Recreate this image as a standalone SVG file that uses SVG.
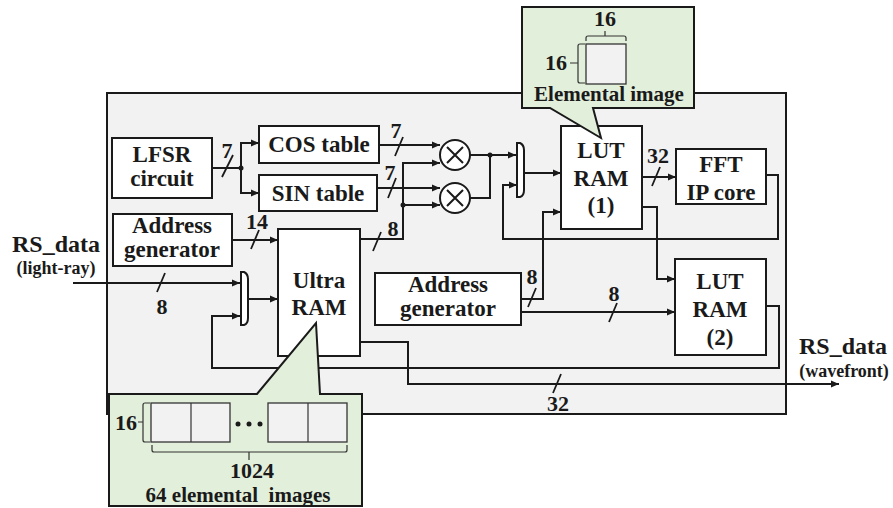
<svg xmlns="http://www.w3.org/2000/svg" width="893" height="508" viewBox="0 0 893 508">
<style>
text{font-family:"Liberation Serif","Times New Roman",serif;font-weight:bold;fill:#1a1a1a;text-anchor:middle;font-size:23px}
.d{font-size:22px}
.s{font-size:18px}
.box{fill:#fff;stroke:#1a1a1a;stroke-width:2}
.green{fill:#e2efda;stroke:#1a1a1a;stroke-width:2;stroke-linejoin:miter}
.img{fill:#f2f2f2;stroke:#333;stroke-width:1.3}
.thin{fill:none;stroke:#333;stroke-width:1.2}
.w{fill:none;stroke:#1a1a1a;stroke-width:2}
.a{marker-end:url(#arrow)}
.t{fill:none;stroke:#1a1a1a;stroke-width:1.8}
</style>
<defs>
<marker id="arrow" markerUnits="userSpaceOnUse" markerWidth="9" markerHeight="8" refX="8" refY="4" orient="auto">
<path d="M0,0.5 L8,4 L0,7.5 Z" fill="#1a1a1a"/>
</marker>
</defs>
<rect width="893" height="508" fill="#fff"/>
<g id="system-boundary"><rect x="107" y="93" width="679" height="321" fill="#f2f2f2" stroke="#1a1a1a" stroke-width="2"/></g>
<g id="connectors">
<path class="w" d="M212,168 H241"/>
<path class="w a" d="M241,168 V143 H259"/>
<path class="w a" d="M241,168 V193 H259"/>
<circle cx="241" cy="168" r="2.5" fill="#1a1a1a"/>
<path class="w a" d="M379,145 H440"/>
<path class="w a" d="M377,188 H440"/>
<path class="w a" d="M232,240 H278"/>
<path class="w a" d="M360,239 H403 V163 H440"/>
<path class="w a" d="M403,205 H440"/>
<circle cx="403" cy="205" r="2.5" fill="#1a1a1a"/>
<path class="w a" d="M470,155 H516"/>
<path class="w" d="M470,198 H490 V155"/>
<circle cx="490" cy="155" r="2.5" fill="#1a1a1a"/>
<path class="w a" d="M524,173 H561"/>
<path class="w a" d="M766,175 H778 V239 H503 V185 H517"/>
<path class="w a" d="M521,299 H543 V212 H561"/>
<path class="w a" d="M642,177 H676"/>
<path class="w a" d="M642,207 H657 V279 H675"/>
<path class="w a" d="M521,312 H675"/>
<path class="w a" d="M766,306 H779 V368 H212 V316 H240"/>
<path class="w a" d="M360,342 H408 V384 H839"/>
<path class="w a" d="M73,283 H240"/>
<path class="w a" d="M248,299 H278"/>
<path class="t" d="M222,177 L233,155 M395,156 L403,137 M388,198 L396,178 M251,249 L259,230 M373,251 L381,232 M157,292 L165,273 M528,307 L536,288 M609,322 L617,303 M553,393 L561,374 M652,186 L660,167"/>
</g>
<g id="width-labels">
<text class="d" x="227" y="158">7</text>
<text class="d" x="396" y="138">7</text>
<text class="d" x="390" y="180">7</text>
<text class="d" x="257" y="229">14</text>
<text class="d" x="393" y="236">8</text>
<text class="d" x="162" y="314">8</text>
<text class="d" x="532" y="284">8</text>
<text class="d" x="614" y="301">8</text>
<text class="d" x="558" y="411">32</text>
<text class="d" x="658" y="163">32</text>
</g>
<g id="lfsr"><rect class="box" x="112" y="138" width="100" height="60"/><text x="162" y="162">LFSR</text><text x="162" y="186">circuit</text></g>
<g id="cos-table"><rect class="box" x="259" y="126" width="120" height="37"/><text x="319" y="152">COS table</text></g>
<g id="sin-table"><rect class="box" x="259" y="175" width="118" height="36"/><text x="318" y="201">SIN table</text></g>
<g id="address-generator-1"><rect class="box" x="113" y="214" width="119" height="52"/><text x="172" y="233">Address</text><text x="172" y="257">generator</text></g>
<g id="ultra-ram"><rect class="box" x="278" y="229" width="82" height="127"/><text x="319" y="288">Ultra</text><text x="319" y="315">RAM</text></g>
<g id="lut-ram-1"><rect class="box" x="561" y="126" width="81" height="103"/><text x="601" y="158">LUT</text><text x="601" y="186">RAM</text><text x="601" y="213">(1)</text></g>
<g id="fft"><rect class="box" x="676" y="149" width="90" height="55"/><text x="721" y="172">FFT</text><text x="721" y="200">IP core</text></g>
<g id="lut-ram-2"><rect class="box" x="675" y="259" width="91" height="96"/><text x="720" y="289">LUT</text><text x="720" y="317">RAM</text><text x="720" y="345">(2)</text></g>
<g id="address-generator-2"><rect class="box" x="375" y="273" width="146" height="52"/><text x="448" y="292">Address</text><text x="448" y="316">generator</text></g>
<g id="multiplier-1"><circle class="box" cx="455" cy="155" r="15"/><path class="w" d="M447,147 L463,163 M463,147 L447,163" stroke-width="1.5"/></g>
<g id="multiplier-2"><circle class="box" cx="455" cy="198" r="15"/><path class="w" d="M447,190 L463,206 M463,190 L447,206" stroke-width="1.5"/></g>
<g id="mux-1"><path class="box" d="M517,143 H520 Q524,145 524,150 V190 Q524,196 520,197 H517 Z"/></g>
<g id="mux-2"><path class="box" d="M241,272 H244 Q248,274 248,279 V318 Q248,324 244,325 H241 Z"/></g>
<g id="callout-elemental-image">
<path class="green" d="M522,7 H694 V108 H593 L601,138 L550,108 H522 Z"/>
<rect class="img" x="586" y="44" width="40" height="40"/>
<path class="thin" d="M586,41 V38 Q586,36 588,36 H624 Q626,36 626,38 V41 M605,36 V31"/>
<path class="thin" d="M585,44 H580 Q578,44 578,46 V81 Q578,83 580,83 H585 M578,63 H570"/>
<text class="d" x="605" y="26">16</text>
<text class="d" x="556" y="70">16</text>
<text x="609" y="101" style="font-size:21px">Elemental image</text>
</g>
<g id="callout-elemental-images">
<path class="green" d="M109,394 H257 L316,323 L320,394 H362 V506 H109 Z"/>
<rect class="img" x="151" y="403" width="79" height="39"/><path class="thin" d="M191,403 V442"/>
<rect class="img" x="268" y="403" width="79" height="39"/><path class="thin" d="M308,403 V442"/>
<circle cx="238" cy="424" r="2.5" fill="#1a1a1a"/><circle cx="249" cy="424" r="2.5" fill="#1a1a1a"/><circle cx="260" cy="424" r="2.5" fill="#1a1a1a"/>
<path class="thin" d="M150,403 H145 Q143,403 143,405 V440 Q143,442 145,442 H150 M143,422 H138"/>
<path class="thin" d="M152,445 V450 Q152,452 154,452 H345 Q347,452 347,450 V445 M249,452 V460"/>
<text class="d" x="126" y="430">16</text>
<text class="d" x="252" y="478">1024</text>
<text x="238" y="502" xml:space="preserve" style="font-size:21px">64 elemental  images</text>
</g>
<g id="io-labels">
<text x="56" y="252" style="font-size:24px">RS_data</text>
<text class="s" x="56" y="274">(light-ray)</text>
<text x="843" y="354" style="font-size:24px">RS_data</text>
<text class="s" x="844" y="377">(wavefront)</text>
</g>
</svg>
